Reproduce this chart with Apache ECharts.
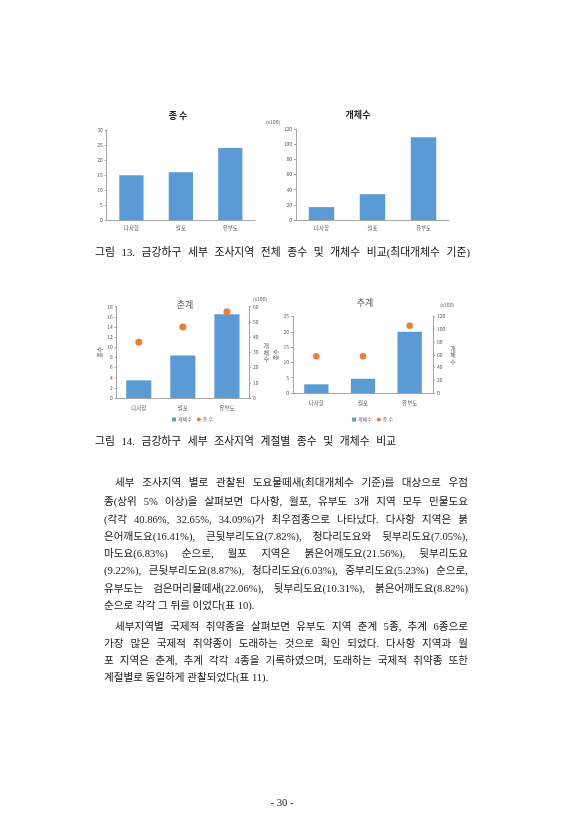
<!DOCTYPE html>
<html lang="ko">
<head>
<meta charset="utf-8">
<script src="https://cdn.jsdelivr.net/npm/echarts@6/dist/echarts.min.js"></script>
<style>
  html, body { margin:0; padding:0; background:#fff; }
  #page { position:relative; width:566px; height:840px; overflow:hidden; background:#fff; }
  #chart { position:absolute; left:0; top:0; width:566px; height:840px; }
  .ln { position:absolute; height:14px; line-height:14px; font-size:10.6px; color:#1a1a1a;
        font-family:"Liberation Serif","Noto Sans CJK KR",serif; white-space:normal; overflow:visible; }
  .j { text-align:justify; text-align-last:justify; }
  .cap { font-size:10.8px; color:#111; }
</style>
</head>
<body>
<div id="page">
  <div id="chart"></div>
  <div id="txt"></div>
</div>
<script>
// ---- data ----
const regions = ['다사항', '월포', '유부도'];
const totalSpecies = [15, 16, 24];
const totalIndividuals = [17, 34, 109];      // x100
const springIndividuals = [11.6, 28, 55];    // x100
const springSpecies = [11, 14, 17];
const autumnIndividuals = [13.6, 22.4, 96];  // x100
const autumnSpecies = [12, 12, 22];
const speciesTicks1 = [0, 30, 5];
const indivTicks1 = [0, 120, 20];
const springSpeciesTicks = [0, 18, 2];
const springIndivTicks = [0, 60, 10];
const autumnSpeciesTicks = [0, 25, 5];
const autumnIndivTicks = [0, 120, 20];

// ---- text ----
const lines = [
  // [text, x, yCenter, width, justify, cls]
  ['그림 13. 금강하구 세부 조사지역 전체 종수 및 개체수 비교(최대개체수 기준)', 95, 252, 375, true, 'cap'],
  ['그림 14. 금강하구 세부 조사지역 계절별 종수 및 개체수 비교', 95, 441, 301, true, 'cap'],
  ['세부 조사지역 별로 관찰된 도요물떼새(최대개체수 기준)를 대상으로 우점', 115, 483, 353, true, ''],
  ['종(상위 5% 이상)을 살펴보면 다사항, 월포, 유부도 3개 지역 모두 민물도요', 104, 501.5, 364, true, ''],
  ['(각각 40.86%, 32.65%, 34.09%)가 최우점종으로 나타났다. 다사항 지역은 붉', 104, 519.5, 364, true, ''],
  ['은어깨도요(16.41%), 큰뒷부리도요(7.82%), 청다리도요와 뒷부리도요(7.05%),', 104, 537, 364, true, ''],
  ['마도요(6.83%) 순으로, 월포 지역은 붉은어깨도요(21.56%), 뒷부리도요', 104, 554, 364, true, ''],
  ['(9.22%), 큰뒷부리도요(8.87%), 청다리도요(6.03%), 중부리도요(5.23%) 순으로,', 104, 571, 364, true, ''],
  ['유부도는 검은머리물떼새(22.06%), 뒷부리도요(10.31%), 붉은어깨도요(8.82%)', 104, 588.5, 364, true, ''],
  ['순으로 각각 그 뒤를 이었다(표 10).', 104, 605.5, 364, false, ''],
  ['세부지역별 국제적 취약종을 살펴보면 유부도 지역 춘계 5종, 추계 6종으로', 115, 627, 353, true, ''],
  ['가장 많은 국제적 취약종이 도래하는 것으로  확인 되었다. 다사항 지역과 월', 104, 644, 364, true, ''],
  ['포 지역은 춘계, 추계 각각 4종을 기록하였으며, 도래하는 국제적 취약종 또한', 104, 661, 364, true, ''],
  ['계절별로 동일하게 관찰되었다(표 11).', 104, 678, 364, false, ''],
  ['- 30 -', 262, 803, 40, false, 'center']
];
const txt = document.getElementById('txt');
lines.forEach(function (l) {
  const d = document.createElement('div');
  d.className = 'ln' + (l[4] ? ' j' : '') + (l[5] === 'cap' ? ' cap' : '');
  d.textContent = l[0];
  d.style.left = l[1] + 'px';
  d.style.top = (l[2] - 7) + 'px';
  d.style.width = l[3] + 'px';
  if (l[5] === 'center') d.style.textAlign = 'center';
  txt.appendChild(d);
  let ls = 0;
  while (d.scrollHeight > 20 && ls > -2) {
    ls -= 0.1;
    d.style.letterSpacing = ls.toFixed(2) + 'px';
  }
});

// ---- chart ----
const FONT = '"Noto Sans CJK KR", sans-serif';
const axisGray = '#595959';
const lineGray = '#a6a6a6';
const blue = '#5b9bd5';
const orange = '#ed7d31';

function xAx(g, margin) {
  return {
    gridIndex: g, type: 'category', data: regions,
    axisLine: { show: true, lineStyle: { color: lineGray, width: 1 } },
    axisTick: { show: false },
    axisLabel: { fontSize: 5.5, color: axisGray, margin: margin, fontFamily: FONT },
    splitLine: { show: false }
  };
}
function yAx(g, t, pos, extra) {
  return Object.assign({
    gridIndex: g, type: 'value', min: t[0], max: t[1], interval: t[2], position: pos,
    axisLine: { show: true, lineStyle: { color: lineGray, width: 1 } },
    axisTick: { show: true, length: 2, lineStyle: { color: lineGray } },
    axisLabel: { fontSize: 5, color: axisGray, margin: 4, fontFamily: FONT },
    splitLine: { show: false }
  }, extra || {});
}
function gtext(text, x, y, size, color, weight) {
  return {
    type: 'text', silent: true,
    style: { text: text, x: x, y: y, align: 'center', verticalAlign: 'middle',
             fontSize: size, fill: color, fontWeight: weight || 'normal', fontFamily: FONT }
  };
}

const chart = echarts.init(document.getElementById('chart'), null, { renderer: 'canvas' });
const option = {
  animation: false,
  backgroundColor: '#ffffff',
  grid: [
    { left: 106.7, top: 130, width: 148.3, height: 90.3 },
    { left: 296, top: 129, width: 153, height: 91 },
    { left: 116.7, top: 306.7, width: 132.3, height: 91.3 },
    { left: 293, top: 316.5, width: 140, height: 76.5 }
  ],
  xAxis: [xAx(0, 5), xAx(1, 5), xAx(2, 7), xAx(3, 7)],
  yAxis: [
    yAx(0, speciesTicks1, 'left'),
    yAx(1, indivTicks1, 'left'),
    yAx(2, springSpeciesTicks, 'left', {
      name: '종수', nameLocation: 'middle', nameRotate: 90, nameGap: 14,
      nameTextStyle: { fontSize: 6, color: axisGray, fontFamily: FONT } }),
    yAx(2, springIndivTicks, 'right', {
      name: '개\n체\n수', nameLocation: 'middle', nameRotate: 0, nameGap: 13,
      nameTextStyle: { fontSize: 6, color: axisGray, lineHeight: 6.5, fontFamily: FONT } }),
    yAx(3, autumnSpeciesTicks, 'left', {
      name: '종수', nameLocation: 'middle', nameRotate: 90, nameGap: 14,
      nameTextStyle: { fontSize: 6, color: axisGray, fontFamily: FONT } }),
    yAx(3, autumnIndivTicks, 'right', {
      name: '개\n체\n수', nameLocation: 'middle', nameRotate: 0, nameGap: 14,
      nameTextStyle: { fontSize: 6, color: axisGray, lineHeight: 6.5, fontFamily: FONT } })
  ],
  legend: [
    { left: 167, top: 412, itemWidth: 4, itemHeight: 4, itemGap: 5,
      textStyle: { fontSize: 5, color: axisGray, fontFamily: FONT, padding: [0, 0, 0, -3] },
      data: [{ name: '개체수', icon: 'rect' }, { name: '종 수', icon: 'circle' }] },
    { left: 347, top: 412, itemWidth: 4, itemHeight: 4, itemGap: 5,
      textStyle: { fontSize: 5, color: axisGray, fontFamily: FONT, padding: [0, 0, 0, -3] },
      data: [{ name: '개체수', icon: 'rect' }, { name: '종 수', icon: 'circle' }] }
  ],
  series: [
    { name: '전체 종수', type: 'bar', xAxisIndex: 0, yAxisIndex: 0, data: totalSpecies,
      barWidth: '49%', itemStyle: { color: blue } },
    { name: '전체 개체수', type: 'bar', xAxisIndex: 1, yAxisIndex: 1, data: totalIndividuals,
      barWidth: '50%', itemStyle: { color: blue } },
    { name: '개체수', type: 'bar', xAxisIndex: 2, yAxisIndex: 3, data: springIndividuals,
      barWidth: '57%', itemStyle: { color: blue } },
    { name: '종 수', type: 'scatter', xAxisIndex: 2, yAxisIndex: 2, data: springSpecies,
      symbolSize: 7, itemStyle: { color: orange, opacity: 1 } },
    { name: '개체수', type: 'bar', xAxisIndex: 3, yAxisIndex: 5, data: autumnIndividuals,
      barWidth: '52%', itemStyle: { color: blue } },
    { name: '종 수', type: 'scatter', xAxisIndex: 3, yAxisIndex: 4, data: autumnSpecies,
      symbolSize: 6.5, itemStyle: { color: orange, opacity: 1 } }
  ],
  graphic: [
    gtext('종 수', 178, 116, 9, '#262626', 'bold'),
    gtext('개체수', 358, 115, 9, '#262626', 'bold'),
    gtext('(x100)', 273, 122, 5, axisGray),
    gtext('춘계', 185, 305, 9, axisGray),
    gtext('(x100)', 260, 299, 5, axisGray),
    gtext('추계', 365, 303, 9, axisGray),
    gtext('(x100)', 447, 305, 5, axisGray)
  ]
};
chart.setOption(option);
</script>
</body>
</html>
